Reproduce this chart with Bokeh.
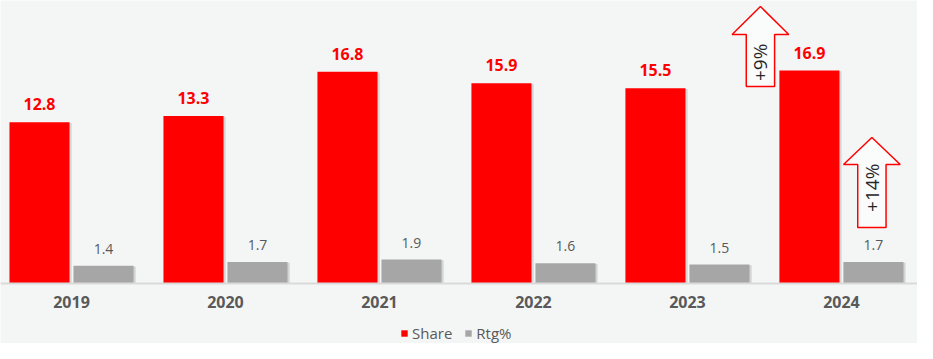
from bokeh.plotting import figure
from bokeh.models import (Range1d, FixedTicker, Legend, LegendItem, ColumnDataSource, LinearAxis)
from bokeh.core.properties import value
from bokeh.embed import file_html
from bokeh.resources import INLINE

years = ["2019", "2020", "2021", "2022", "2023", "2024"]
share = [12.8, 13.3, 16.8, 15.9, 15.5, 16.9]
rtg = [1.4, 1.7, 1.9, 1.6, 1.5, 1.7]

growth_labels = ["+9%", "+14%"]

FONT = "Open Sans"
BG = "#F4F6F6"
RED = "#FF0000"
GRAY = "#A6A6A6"
TXT = "#595959"

n = len(years)
centers = [i + 0.5 for i in range(n)]
off = 0.2078
bw = 0.39
xs_share = [c - off for c in centers]
xs_rtg = [c + off for c in centers]

p = figure(frame_width=917, frame_height=343, output_backend="svg", toolbar_location=None,
           x_range=Range1d(0.039, 5.994), y_range=Range1d(-4.762, 22.46),
           min_border_left=0, min_border_right=0, min_border_top=0,
           min_border_bottom=0, x_axis_location=None, y_axis_location=None)
p.background_fill_color = BG
p.border_fill_color = BG
p.outline_line_color = None
p.grid.visible = False

src_s = ColumnDataSource(dict(x=xs_share, top=share, lab=[f"{v:.1f}" for v in share]))
src_r = ColumnDataSource(dict(x=xs_rtg, top=rtg, lab=[f"{v:.1f}" for v in rtg]))

# shadows
p.vbar(x=[x + 0.014 for x in xs_share], top=[t - 0.06 for t in share], width=bw,
       fill_color="#7F7F7F", fill_alpha=0.28, line_color=None)
p.vbar(x=[x + 0.014 for x in xs_rtg], top=[t - 0.06 for t in rtg], width=bw,
       fill_color="#7F7F7F", fill_alpha=0.28, line_color=None)

rs = p.vbar(x="x", top="top", width=bw, source=src_s, fill_color=RED, line_color=None)
rr = p.vbar(x="x", top="top", width=bw, source=src_r, fill_color=GRAY, line_color=None)

p.text(x="x", y="top", text="lab", source=src_s, text_align="center", text_baseline="middle",
       y_offset=-18, text_font=value(FONT), text_font_size="16px", text_font_style="bold",
       text_color=RED)
p.text(x="x", y="top", text="lab", source=src_r, text_align="center", text_baseline="middle",
       y_offset=-17, text_font=value(FONT), text_font_size="14px", text_color=TXT)

# arrows: (center x, bottom y, head base y, tip y, text y)
arrows = [
    (centers[5] - 0.526, share[5] - 1.27, 19.76, 21.98, 17.55),
    (xs_rtg[5] - 0.01, rtg[5] + 2.74, 9.44, 11.59, 7.6),
]
sh = 0.092
hh = 0.184
for (cx, b, hb, tip, ty), lab in zip(arrows, growth_labels):
    px = [cx - sh, cx + sh, cx + sh, cx + hh, cx, cx - hh, cx - sh]
    py = [b, b, hb, hb, tip, hb, hb]
    p.patch(px, py, fill_color="#FAFBFB", line_color=RED, line_width=1.5)
    p.text(x=[cx], y=[ty], text=[lab], angle=1.5708, text_align="center",
           text_baseline="middle", text_font=value(FONT), text_font_size="19px",
           text_color="#262626")

xaxis = LinearAxis(ticker=FixedTicker(ticks=centers), fixed_location=0,
                   major_label_overrides={c: y for c, y in zip(centers, years)})
xaxis.axis_line_color = "#D9D9D9"
xaxis.axis_line_width = 2
xaxis.major_tick_line_color = None
xaxis.minor_tick_line_color = None
xaxis.major_label_text_font = FONT
xaxis.major_label_text_font_size = "16px"
xaxis.major_label_text_font_style = "bold"
xaxis.major_label_text_color = TXT
xaxis.major_label_standoff = 7
p.add_layout(xaxis, "below")

legend = Legend(items=[LegendItem(label="Share", renderers=[rs]),
                       LegendItem(label="Rtg%", renderers=[rr])],
                orientation="horizontal", location=(400, 0),
                background_fill_alpha=0, border_line_color=None,
                label_text_font=FONT, label_text_font_size="15px",
                label_text_color=TXT, glyph_width=8, glyph_height=8,
                label_height=10, label_standoff=4, spacing=12, padding=0, margin=0)
p.add_layout(legend, "center")

open("out.html", "w").write(file_html(p, INLINE))
